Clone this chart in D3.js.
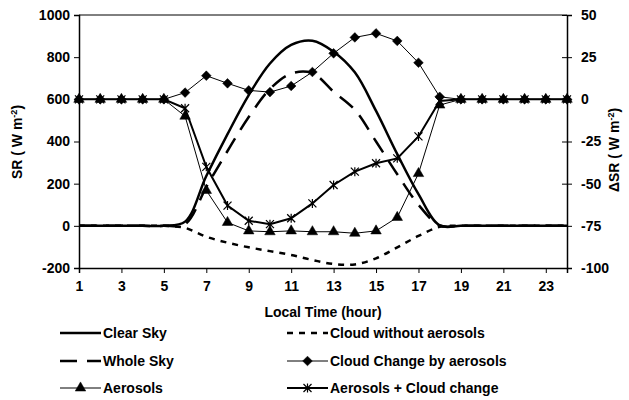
<!DOCTYPE html>
<html>
<head>
<meta charset="utf-8">
<script src="https://cdn.jsdelivr.net/npm/d3@7.9.0/dist/d3.min.js"></script>
<style>
  body { margin: 0; background: #fff; }
  text { font-family: Arial, "Liberation Sans", sans-serif; font-weight: bold; fill: #000; }
</style>
</head>
<body>
<svg id="chart" width="629" height="400"></svg>
<script>
// Data
const hours = d3.range(1, 25);
const leftTicks = [-200, 0, 200, 400, 600, 800, 1000];
const rightTicks = [-100, -75, -50, -25, 0, 25, 50];
const hourTicks = [1, 3, 5, 7, 9, 11, 13, 15, 17, 19, 21, 23];

// left axis (SR)
const clearSky = [0, 0, 0, 0, 0, 20, 236, 435, 620, 770, 858, 878, 826, 728, 545, 340, 150, 2, 0, 0, 0, 0, 0, 0];
const wholeSky = [0, 0, 0, 0, 0, 8, 184, 355, 516, 649, 722, 724, 636, 550, 400, 245, 100, 2, 0, 0, 0, 0, 0, 0];
const cloudNoAerosols = [0, 0, 0, 0, 0, -10, -52, -80, -102, -120, -138, -162, -181, -183, -154, -102, -48, -5, 0, 0, 0, 0, 0, 0];

// right axis (delta SR)
const cloudChange = [0, 0, 0, 0, 0, 4, 14, 9.5, 5.3, 4.3, 7.9, 16.2, 27.3, 36.7, 39.1, 34.6, 21.7, 1.5, 0, 0, 0, 0, 0, 0];
const aerosols = [0, 0, 0, 0, 0, -10, -54, -73, -78, -78.5, -78, -78.5, -78.5, -79.4, -78, -70, -44, -3.4, 0, 0, 0, 0, 0, 0];
const aerosolsCloud = [0, 0, 0, 0, 0, -5.3, -40, -63, -72, -74, -70.5, -61.7, -50.8, -42.9, -37.9, -35, -22, -1, 0, 0, 0, 0, 0, 0];

const svg = d3.select('#chart');

const area = { left: 79, right: 567, top: 15, bottom: 268 };

const xScale = d3.scaleLinear().domain([1, 24]).range([area.left, area.right]);
const yLeft = d3.scaleLinear().domain([-200, 1000]).range([area.bottom, area.top]);
const yRight = d3.scaleLinear().domain([-100, 50]).range([area.bottom, area.top]);

const fmt = (d) => String(d);

// Axes
svg.append('g')
  .attr('transform', `translate(${area.left},0)`)
  .call(d3.axisLeft(yLeft).tickValues(leftTicks).tickFormat(fmt).tickSizeOuter(0).tickSize(5).tickPadding(4))
  .call((g) => g.select('.domain').attr('stroke-width', 1.5));

const rAxis = svg.append('g')
  .attr('transform', `translate(${area.right},0)`)
  .call(d3.axisRight(yRight).tickValues(rightTicks).tickFormat(fmt).tickSizeOuter(0).tickSize(5).tickPadding(9))
  .call((g) => g.select('.domain').attr('stroke-width', 1.5));
rAxis.selectAll('.tick line').attr('x1', -5);

svg.append('g')
  .attr('transform', `translate(0,${area.bottom})`)
  .call(d3.axisBottom(xScale).tickValues(hourTicks).tickFormat(fmt).tickSizeOuter(0).tickSize(5).tickPadding(8))
  .call((g) => g.select('.domain').attr('stroke-width', 1.5));

// top border
svg.append('line')
  .attr('x1', area.left).attr('x2', area.right)
  .attr('y1', area.top).attr('y2', area.top)
  .attr('stroke', '#000').attr('stroke-width', 1);

svg.selectAll('.tick text').style('font-size', '14px').style('font-family', 'Arial, "Liberation Sans", sans-serif').style('font-weight', 'bold');

// Axis titles
svg.append('text')
  .attr('transform', 'translate(22,142) rotate(-90)')
  .attr('text-anchor', 'middle')
  .style('font-size', '14px')
  .html('SR ( W m<tspan dy="-5" font-size="9">-2</tspan><tspan dy="5">)</tspan>');

svg.append('text')
  .attr('transform', 'translate(619,150) rotate(-90)')
  .attr('text-anchor', 'middle')
  .style('font-size', '14px')
  .html('\u0394SR ( W m<tspan dy="-5" font-size="9">-2</tspan><tspan dy="5">)</tspan>');

svg.append('text')
  .attr('x', 323).attr('y', 317)
  .attr('text-anchor', 'middle')
  .style('font-size', '14px')
  .text('Local Time (hour)');

// Lines
const smooth = (y) => d3.line().x((d, i) => xScale(hours[i])).y((d) => y(d)).curve(d3.curveCatmullRom.alpha(0.5));
const straight = (y) => d3.line().x((d, i) => xScale(hours[i])).y((d) => y(d));

const plot = svg.append('g');

plot.append('path').datum(cloudNoAerosols)
  .attr('d', smooth(yLeft)).attr('fill', 'none').attr('stroke', '#000')
  .attr('stroke-width', 2.5).attr('stroke-dasharray', '6,6');

plot.append('path').datum(wholeSky)
  .attr('d', smooth(yLeft)).attr('fill', 'none').attr('stroke', '#000')
  .attr('stroke-width', 2.5).attr('stroke-dasharray', '17,10');

plot.append('path').datum(clearSky)
  .attr('d', smooth(yLeft)).attr('fill', 'none').attr('stroke', '#000')
  .attr('stroke-width', 2.5);

plot.append('path').datum(cloudChange)
  .attr('d', straight(yRight)).attr('fill', 'none').attr('stroke', '#000').attr('stroke-width', 1);

plot.append('path').datum(aerosols)
  .attr('d', straight(yRight)).attr('fill', 'none').attr('stroke', '#000').attr('stroke-width', 1);

plot.append('path').datum(aerosolsCloud)
  .attr('d', straight(yRight)).attr('fill', 'none').attr('stroke', '#000').attr('stroke-width', 2);

// Markers
const diamond = d3.symbol().type(d3.symbolDiamond2).size(60)();
const triangle = d3.symbol().type(d3.symbolTriangle).size(48)();
const asterisk = 'M-4,-4L4,4M-4,4L4,-4M0,-4.5L0,4.5';

function drawMarkers(values, path, filled) {
  plot.append('g').selectAll('path')
    .data(values)
    .join('path')
    .attr('transform', (d, i) => `translate(${xScale(hours[i])},${yRight(d)})`)
    .attr('d', path)
    .attr('fill', filled ? '#000' : 'none')
    .attr('stroke', '#000')
    .attr('stroke-width', filled ? 0.5 : 1.2);
}

drawMarkers(cloudChange, diamond, true);
drawMarkers(aerosols, triangle, true);
drawMarkers(aerosolsCloud, asterisk, false);

// Legend
const legendItems = [
  { label: 'Clear Sky', x: 60, y: 333, dash: null, w: 2.5 },
  { label: 'Cloud without aerosols', x: 287, y: 333, dash: '6,6', w: 2.5 },
  { label: 'Whole Sky', x: 60, y: 361, dash: '17,10', w: 2.5 },
  { label: 'Cloud Change by aerosols', x: 287, y: 361, dash: null, w: 1, marker: diamond },
  { label: 'Aerosols', x: 60, y: 388, dash: null, w: 1, marker: triangle },
  { label: 'Aerosols + Cloud change', x: 287, y: 388, dash: null, w: 2, marker: asterisk, open: true },
];

const legend = svg.append('g');
legendItems.forEach((it) => {
  const g = legend.append('g').attr('transform', `translate(${it.x},${it.y})`);
  g.append('line')
    .attr('x1', 0).attr('x2', 41).attr('y1', 0).attr('y2', 0)
    .attr('stroke', '#000').attr('stroke-width', it.w)
    .attr('stroke-dasharray', it.dash);
  if (it.marker) {
    g.append('path')
      .attr('transform', 'translate(20.5,0)')
      .attr('d', it.marker)
      .attr('fill', it.open ? 'none' : '#000')
      .attr('stroke', '#000')
      .attr('stroke-width', it.open ? 1.2 : 0.5);
  }
  g.append('text')
    .attr('x', 43).attr('y', 5)
    .style('font-size', '14px')
    .text(it.label);
});
</script>
</body>
</html>
